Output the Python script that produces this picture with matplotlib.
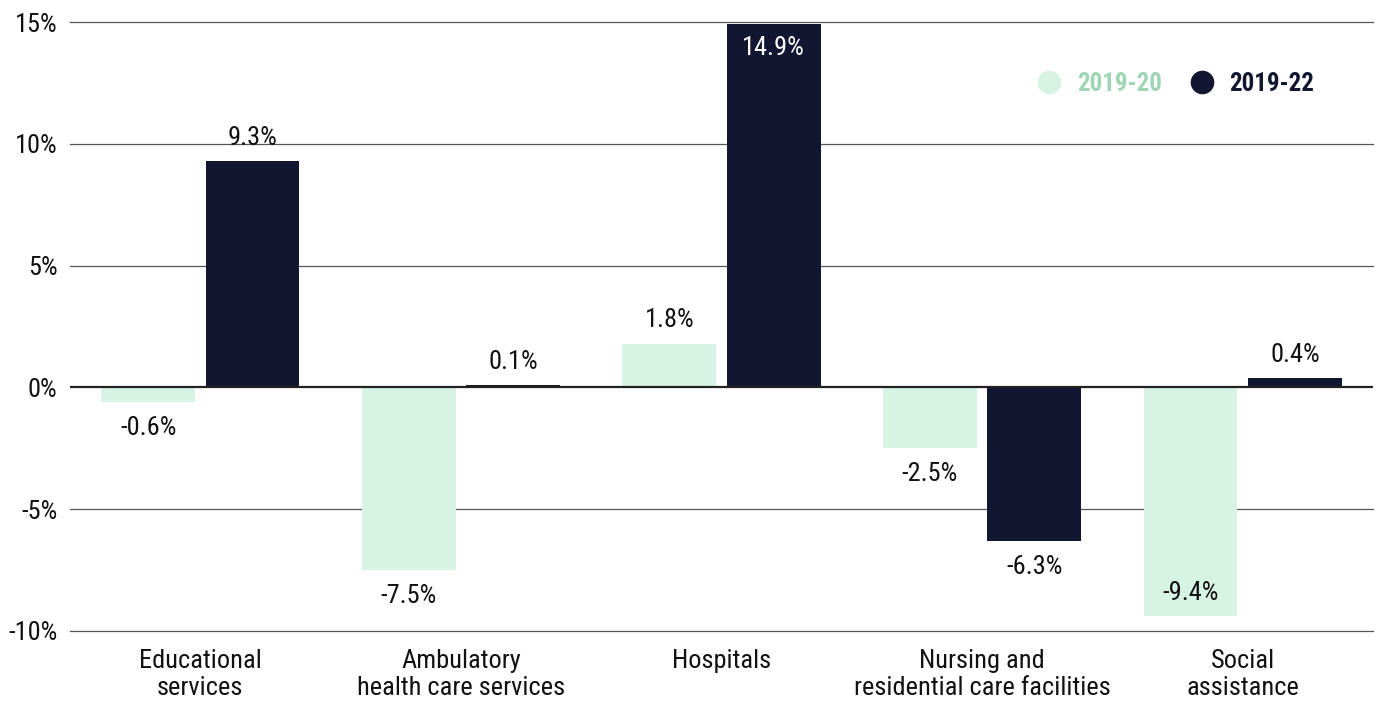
import numpy as np
import matplotlib.pyplot as plt
from matplotlib.lines import Line2D

categories = ["Educational\nservices", "Ambulatory\nhealth care services", "Hospitals",
              "Nursing and\nresidential care facilities", "Social\nassistance"]
change_2019_20 = [-0.6, -7.5, 1.8, -2.5, -9.4]
change_2019_22 = [9.3, 0.1, 14.9, -6.3, 0.4]
y_ticks = [-10, -5, 0, 5, 10, 15]

light = "#d7f3e3"
light_text = "#9ed6b5"
dark = "#121731"
ink = "#111111"

plt.rcParams['font.family'] = ['Roboto Condensed', 'DejaVu Sans']

fig = plt.figure(figsize=(13.76, 7.04), dpi=100)
ax = fig.add_axes([70 / 1376, 73 / 704, 1303 / 1376, 609 / 704])

x = np.arange(len(categories))
w = 0.36
off = 0.2
ymin, ymax = -10, 15

b1 = ax.bar(x - off, change_2019_20, w, color=light, zorder=2)
b2 = ax.bar(x + off, change_2019_22, w, color=dark, zorder=2)

# value labels outside the bar end, or inside when they would run off the axes
for bars, vals, inner in [(b1, change_2019_20, ink), (b2, change_2019_22, "white")]:
    for b, v in zip(bars, vals):
        cx = b.get_x() + b.get_width() / 2
        if v >= 0:
            if v > ymax - 2:
                ax.annotate(f"{v:.1f}%", (cx, v), xytext=(0, -8), textcoords="offset points",
                            ha="center", va="top", fontsize=19, color=inner, zorder=4)
            else:
                ax.annotate(f"{v:.1f}%", (cx, v), xytext=(0, 8), textcoords="offset points",
                            ha="center", va="bottom", fontsize=19, color=ink)
        else:
            if v < ymin + 2:
                ax.annotate(f"{v:.1f}%", (cx, v), xytext=(0, 8), textcoords="offset points",
                            ha="center", va="bottom", fontsize=19, color=inner, zorder=4)
            else:
                ax.annotate(f"{v:.1f}%", (cx, v), xytext=(0, -10), textcoords="offset points",
                            ha="center", va="top", fontsize=19, color=ink)

ax.set_xlim(-0.5, len(categories) - 0.5)
ax.set_ylim(ymin, ymax)
ax.set_yticks(y_ticks)
ax.set_yticklabels([f"{t}%" for t in y_ticks], fontsize=19, color=ink)
ax.set_xticks(x)
ax.set_xticklabels(categories, fontsize=19, color=ink, linespacing=1.15)
ax.tick_params(axis="both", length=0)
ax.tick_params(axis="y", pad=9)
ax.tick_params(axis="x", pad=13)

for t in y_ticks:
    if t == 0:
        ax.axhline(t, color="#222222", lw=1.6, zorder=3)
    else:
        ax.axhline(t, color="#555555", lw=0.9, zorder=1, clip_on=False)

for s in ax.spines.values():
    s.set_visible(False)

handles = [Line2D([], [], marker="o", ls="", markersize=16, color=light),
           Line2D([], [], marker="o", ls="", markersize=16, color=dark)]
leg = ax.legend(handles, ["2019-20", "2019-22"], loc="upper right",
                bbox_to_anchor=(0.972, 0.955), ncol=2, frameon=False,
                fontsize=18, handletextpad=0.1, columnspacing=0.6)
for txt, c in zip(leg.get_texts(), [light_text, dark]):
    txt.set_color(c)
    txt.set_fontweight("bold")

fig.savefig("out.png", dpi=100)
